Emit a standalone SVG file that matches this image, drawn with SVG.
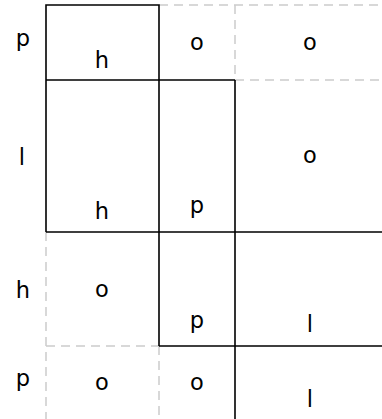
<svg xmlns="http://www.w3.org/2000/svg" width="382" height="419" viewBox="0 0 382 419">
<style>
.d{stroke:#cccccc;stroke-width:1.5;stroke-dasharray:9 6;fill:none}
.s{stroke:#000;stroke-width:1.6;fill:none}
text{font-family:"DejaVu Sans",sans-serif;font-size:22.5px;fill:#000;text-anchor:middle}
</style>
<rect width="382" height="419" fill="#fff"/>
<g id="connectors">
<path class="d" d="M159 5H382M235 5V80M235 80H382M46 232V419M46 346H159M159 346V419"/>
<path class="s" d="M46 5H159V80H46ZM46 80V232M159 80V346M159 80H235M235 80V419M46 232H382M159 346H382"/>
</g>
<g id="labels">
<text x="23" y="46">p</text>
<text x="22" y="165">l</text>
<text x="23" y="298">h</text>
<text x="23" y="386">p</text>
</g>
<g id="cells">
<text x="102" y="68">h</text>
<text x="197" y="50">o</text>
<text x="310" y="50">o</text>
<text x="102" y="219">h</text>
<text x="197" y="213">p</text>
<text x="310" y="163">o</text>
<text x="102" y="297">o</text>
<text x="197" y="328">p</text>
<text x="310" y="332">l</text>
<text x="102" y="390">o</text>
<text x="197" y="390">o</text>
<text x="310" y="407">l</text>
</g>
</svg>
